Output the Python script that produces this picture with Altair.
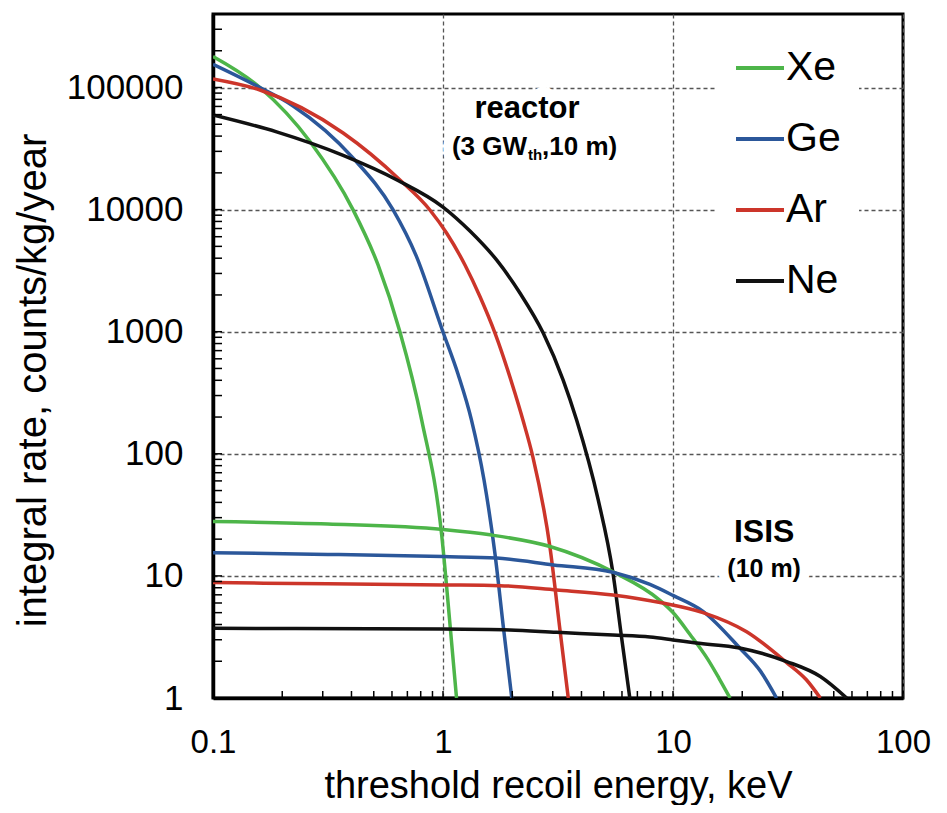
import altair as alt
import pandas as pd

ELEMENTS = ["Xe", "Ge", "Ar", "Ne"]
COLORS = ["#4db549", "#2b579a", "#cc352a", "#111111"]

# reactor source (3 GW_th, 10 m): threshold energy (keV) and integral rate (counts/kg/year)
XE_REACTOR_E = [0.1, 0.16, 0.264, 0.406, 0.522, 0.65, 0.808, 0.987, 1.078, 1.145]
XE_REACTOR_R = [179500, 100000, 36100, 10000, 3520, 995, 189, 21.6, 3.6, 1.0]
GE_REACTOR_E = [0.1, 0.16, 0.223, 0.406, 0.606, 0.764, 1.0, 1.162, 1.33, 1.508, 1.683, 1.832, 1.991]
GE_REACTOR_R = [155000, 100000, 70600, 26500, 10000, 4200, 995, 450, 189, 61.0, 15.1, 3.74, 1.0]
AR_REACTOR_E = [0.1, 0.16, 0.368, 0.65, 0.877, 1.038, 1.246, 1.449, 1.683, 2.056, 2.226, 2.46, 2.916, 3.226, 3.505]
AR_REACTOR_R = [117500, 95400, 42400, 17500, 9930, 6400, 3520, 1935, 975, 313, 189, 94, 17.3, 3.6, 1.0]
NE_REACTOR_E = [0.1, 0.189, 0.368, 0.631, 1.0, 1.31, 1.71, 2.16, 2.727, 3.33, 3.81, 4.73, 5.48, 5.97, 6.49]
NE_REACTOR_R = [59600, 43300, 27800, 17500, 10500, 6680, 3870, 2075, 975, 402, 189, 41.9, 10.6, 3.18, 1.0]

# ISIS source (10 m)
XE_ISIS_E = [0.1, 0.316, 1.0, 1.6, 2.92, 5.48, 8.77, 10.0, 11.86, 14.13, 15.85, 17.7]
XE_ISIS_R = [27.9, 26.6, 24.0, 21.7, 17.4, 10.8, 6.31, 5.01, 3.31, 2.09, 1.45, 1.0]
GE_ISIS_E = [0.1, 0.316, 1.0, 1.71, 3.02, 5.48, 7.94, 10.0, 13.5, 19.5, 24.0, 28.2]
GE_ISIS_R = [15.5, 15.0, 14.4, 14.0, 12.3, 10.7, 8.51, 6.92, 5.13, 2.57, 1.66, 1.0]
AR_ISIS_E = [0.1, 0.316, 1.0, 1.77, 3.12, 5.48, 8.91, 13.5, 20.9, 31.2, 38.0, 43.7]
AR_ISIS_R = [8.81, 8.61, 8.43, 8.32, 7.67, 6.98, 6.03, 5.01, 3.49, 1.95, 1.41, 1.0]
NE_ISIS_E = [0.1, 1.0, 1.95, 3.12, 5.48, 7.94, 10.0, 12.6, 19.5, 31.2, 43.7, 56.9]
NE_ISIS_R = [3.72, 3.67, 3.61, 3.45, 3.28, 3.16, 2.99, 2.82, 2.57, 1.99, 1.50, 1.0]

X_TICKS = [0.1, 1, 10, 100]
Y_TICKS = [1, 10, 100, 1000, 10000, 100000]

SERIES = [
    ("Xe", "reactor", XE_REACTOR_E, XE_REACTOR_R),
    ("Ge", "reactor", GE_REACTOR_E, GE_REACTOR_R),
    ("Ar", "reactor", AR_REACTOR_E, AR_REACTOR_R),
    ("Ne", "reactor", NE_REACTOR_E, NE_REACTOR_R),
    ("Xe", "ISIS", XE_ISIS_E, XE_ISIS_R),
    ("Ge", "ISIS", GE_ISIS_E, GE_ISIS_R),
    ("Ar", "ISIS", AR_ISIS_E, AR_ISIS_R),
    ("Ne", "ISIS", NE_ISIS_E, NE_ISIS_R),
]
rows = []
for el, src, xs, ys in SERIES:
    for x, y in zip(xs, ys):
        rows.append({"element": el, "source": src, "energy": x, "rate": y})
df = pd.DataFrame(rows)

W, H = 690, 684
FONT = "Liberation Sans"

xscale = alt.Scale(type="log", domain=[0.1, 100], nice=False)
yscale = alt.Scale(type="log", domain=[1, 400000], nice=False)
X_AXIS = alt.Axis(values=X_TICKS, format="~g", title="threshold recoil energy, keV",
                  labelPadding=28, labelFontSize=33, labelFlush=False, labelOverlap=False,
                  titleY=99, titleBaseline="alphabetic", titleFontSize=38)
Y_AXIS = alt.Axis(values=Y_TICKS, format="d", title="integral rate, counts/kg/year",
                  labelPadding=30, labelFontSize=35, labelFlush=False, labelOverlap=False,
                  titleX=-168, titleY=366, titleBaseline="alphabetic", titleFontSize=40)


def xe():
    return alt.X("energy:Q", scale=xscale, axis=X_AXIS)


def ye():
    return alt.Y("rate:Q", scale=yscale, axis=Y_AXIS)


lines = alt.Chart(df).mark_line(strokeWidth=3.5, interpolate="monotone", clip=True).encode(
    x=xe(), y=ye(),
    color=alt.Color("element:N", scale=alt.Scale(domain=ELEMENTS, range=COLORS),
                    legend=alt.Legend(title=None, orient="none", legendX=503, legendY=10,
                                      direction="vertical", symbolType="stroke", symbolSize=2304,
                                      symbolStrokeWidth=4, labelFontSize=41, labelFont=FONT,
                                      labelColor="black", rowPadding=25, padding=18,
                                      fillColor="white", labelOffset=0, labelLimit=0)),
    detail="source:N",
)

# inward minor ticks along the left and bottom axes
minor_y = pd.DataFrame({"rate": [k * 10 ** d for d in range(0, 6) for k in range(1, 10) if k * 10 ** d <= 400000]})
minor_x = pd.DataFrame({"energy": [k * 10.0 ** d for d in range(-1, 2) for k in range(1, 10)] + [100]})

yticks = alt.Chart(minor_y).mark_rule(color="black", strokeWidth=1.5).encode(
    y=ye(), x=alt.value(0), x2=alt.value(9))
xticks = alt.Chart(minor_x).mark_rule(color="black", strokeWidth=1.5).encode(
    x=xe(), y=alt.value(H), y2=alt.value(H - 7))

# annotations
ANN_REACTOR_X = 2.32
ann1 = pd.DataFrame({"energy": [ANN_REACTOR_X], "rate": [56200], "t": ["reactor"]})
ann2 = pd.DataFrame({"energy": [ANN_REACTOR_X], "rate": [28000], "a": ["(3 GW"], "b": ["th"], "c": [",10 m)"]})
ann3 = pd.DataFrame({"energy": [24.9], "rate": [18.9], "t": ["ISIS"]})
ann4 = pd.DataFrame({"energy": [24.9], "rate": [9.8], "t": ["(10 m)"]})


def txt(data, field, size, align="center", dx=0, dy=0, halo=False):
    style = dict(font=FONT, fontWeight="bold", fontSize=size, align=align,
                 baseline="alphabetic", dx=dx, dy=dy)
    if halo:
        style.update(color="white", stroke="white", strokeWidth=20, strokeJoin="round")
    else:
        style.update(color="black")
    return alt.Chart(data).mark_text(**style).encode(x=xe(), y=ye(), text=f"{field}:N")


SPECS = [
    (ann1, "t", 31, "center", 0, 0),
    (ann2, "a", 26, "right", 0, 0),
    (ann2, "b", 15, "left", 1, 5),
    (ann2, "c", 26, "left", 15, 0),
    (ann3, "t", 32, "center", 0, 0),
    (ann4, "t", 25, "center", 0, 0),
]
halos = [txt(d, f, s, a, dx, dy, halo=True) for d, f, s, a, dx, dy in SPECS]
texts = [txt(d, f, s, a, dx, dy) for d, f, s, a, dx, dy in SPECS]

chart = alt.layer(*halos, lines, yticks, xticks, *texts).properties(
    width=W, height=H,
    autosize=alt.AutoSizeParams(type="none"),
    padding={"left": 205, "top": 6, "right": 36, "bottom": 107},
).configure(font=FONT).configure_view(
    stroke="black", strokeWidth=3
).configure_axis(
    domain=True, domainColor="black", domainWidth=3.5, ticks=False,
    labelFont=FONT, labelColor="black",
    titleFont=FONT, titleFontWeight="normal", titleColor="black",
    grid=True, gridColor="#555555", gridDash=[4, 3], gridWidth=1.3, gridOpacity=1,
)

chart.save("out.html", embed_options={"renderer": "svg", "actions": False})
